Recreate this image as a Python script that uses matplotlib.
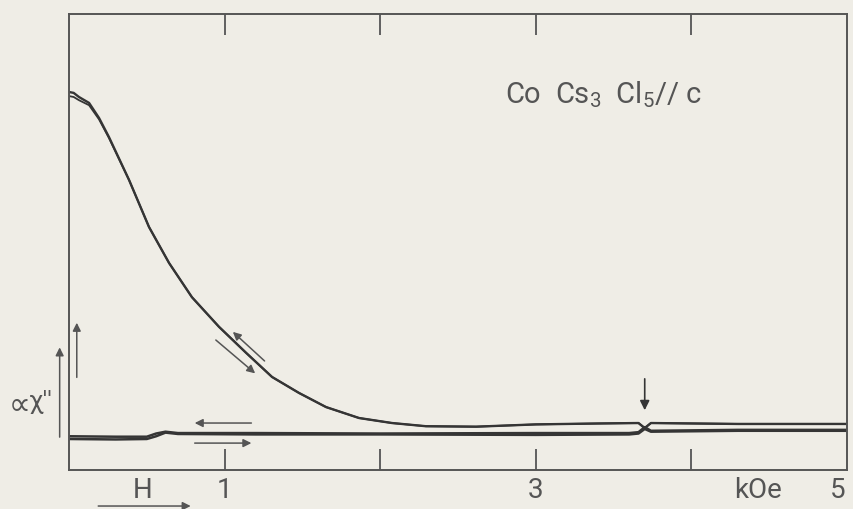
import matplotlib
matplotlib.use("Agg")
import matplotlib.pyplot as plt
import numpy as np

# Field H (kOe) and absorption signal (arbitrary units)
main_x = [0.00, 0.03, 0.064, 0.129, 0.193, 0.257, 0.386, 0.514, 0.643, 0.79, 0.964, 1.138,
          1.305, 1.478, 1.652, 1.864, 2.076, 2.294, 2.616, 3.00, 3.40, 3.66, 3.70, 3.74,
          4.30, 5.00]
main_y = [8.29, 8.27, 8.18, 8.05, 7.72, 7.30, 6.36, 5.33, 4.54, 3.79, 3.14, 2.57,
          2.04, 1.69, 1.38, 1.14, 1.03, 0.96, 0.95, 1.00, 1.02, 1.03, 0.92, 1.03,
          1.01, 1.01]
main_gap = [0.09, 0.09, 0.07, 0.05, 0.03, 0.02, 0.0, 0.0, 0.0, 0.0, 0.0, 0.0,
            0.0, 0.0, 0.0, 0.0, 0.0, 0.0, 0.0, 0.0, 0.0, 0.0, 0.0, 0.0,
            0.0, 0.0]

base_x = [0.00, 0.30, 0.50, 0.56, 0.62, 0.70, 1.20, 2.00, 3.00, 3.60, 3.66, 3.70, 3.74, 4.30, 5.00]
base_y = [0.74, 0.73, 0.73, 0.80, 0.84, 0.81, 0.81, 0.80, 0.81, 0.81, 0.83, 0.94, 0.86, 0.88, 0.88]
base2_y = [0.68, 0.67, 0.68, 0.74, 0.82, 0.79, 0.78, 0.78, 0.77, 0.78, 0.80, 0.90, 0.84, 0.86, 0.86]

xticks = [1, 2, 3, 4]
xticklabels = ["1", "", "3", ""]

bg = "#efede6"
ink = "#353535"
gray = "#555555"
fam = ["Roboto", "DejaVu Sans"]

fig = plt.figure(figsize=(8.54, 5.09), dpi=100, facecolor=bg)
ax = fig.add_axes([69/854, (509-470)/509, (847-69)/854, (470-14)/509])
ax.set_facecolor(bg)

ax.plot(main_x, main_y, color=ink, lw=1.7)
ax.plot(main_x, np.array(main_y) - np.array(main_gap), color=ink, lw=1.3)
ax.plot(base_x, base_y, color=ink, lw=1.8)
ax.plot(base_x, base2_y, color=ink, lw=1.8)

ax.set_xlim(0, 5)
ax.set_ylim(0, 10)
ax.set_yticks([])
ax.set_xticks(xticks)
ax.set_xticklabels(xticklabels)
ax.tick_params(axis="x", direction="in", length=15, width=1.3, color=gray,
               top=True, labeltop=False, labelbottom=False)
for s in ax.spines.values():
    s.set_color(gray)
    s.set_linewidth(1.4)

font = dict(family=fam, fontweight="normal", color=gray)

for xv, lab in zip(xticks, xticklabels):
    if lab:
        ax.text(xv, -0.44, lab, fontsize=20, ha="center", va="center", **font)
ax.text(4.43, -0.44, "kOe", fontsize=20, ha="center", va="center", **font)
ax.text(4.94, -0.44, "5", fontsize=20, ha="center", va="center", **font)
ax.text(2.80, 8.05, r"Co  Cs$\mathregular{_3}$  Cl$\mathregular{_5}$// c", fontsize=21,
        ha="left", va="baseline", **font)

arrow = dict(arrowstyle="-|>", color=gray, lw=1.1, mutation_scale=12)
ax.annotate("", xy=(1.04, 3.07), xytext=(1.27, 2.35), arrowprops=arrow)
ax.annotate("", xy=(1.21, 2.08), xytext=(0.93, 2.89), arrowprops=arrow)
ax.annotate("", xy=(0.79, 1.03), xytext=(1.19, 1.03), arrowprops=arrow)
ax.annotate("", xy=(1.19, 0.59), xytext=(0.79, 0.59), arrowprops=arrow)
ax.annotate("", xy=(0.05, 3.29), xytext=(0.05, 1.97), arrowprops=arrow)
ax.annotate("", xy=(3.70, 1.25), xytext=(3.70, 2.06),
            arrowprops=dict(arrowstyle="-|>", color=ink, lw=1.2, mutation_scale=14))

# y-axis arrow and label outside the axes
ax.annotate("", xy=(-0.012, 0.275), xytext=(-0.012, 0.066), xycoords="axes fraction",
            textcoords="axes fraction", annotation_clip=False,
            arrowprops=dict(arrowstyle="-|>", color=gray, lw=1.1, mutation_scale=12))
ax.text(-0.021, 0.149, "χ''", transform=ax.transAxes, fontsize=19, ha="right",
        va="center", **font)
ax.text(-0.050, 0.142, "∝", transform=ax.transAxes, fontsize=22, ha="right",
        va="center", family=["DejaVu Sans"], color=gray)

# H with arrow below axis
ax.text(0.47, -0.44, "H", fontsize=20, ha="center", va="center", **font)
ax.annotate("", xy=(0.80, -0.79), xytext=(0.17, -0.79), annotation_clip=False,
            arrowprops=dict(arrowstyle="-|>", color=gray, lw=1.1, mutation_scale=12))

fig.savefig("out.png", dpi=100, facecolor=bg)
